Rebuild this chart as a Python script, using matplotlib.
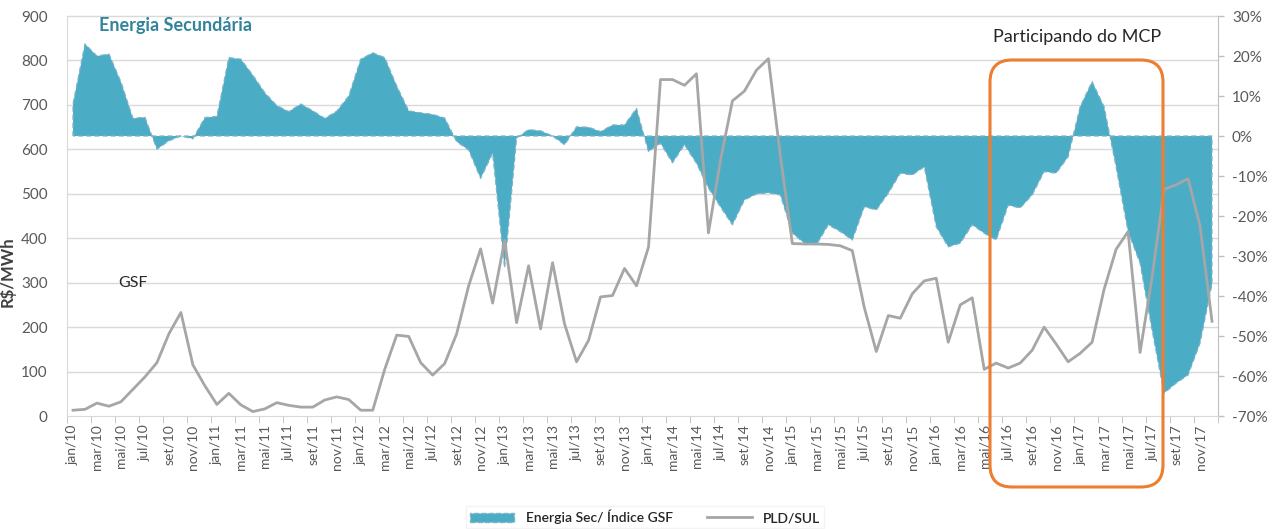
import matplotlib
matplotlib.use("Agg")
import matplotlib.pyplot as plt
from matplotlib.patches import FancyBboxPatch, Patch
from matplotlib.lines import Line2D

plt.rcParams['font.family'] = ['Lato', 'DejaVu Sans']

# months jan/10 .. dez/17
month_names = ["jan", "fev", "mar", "abr", "mai", "jun", "jul", "ago", "set", "out", "nov", "dez"]
years = ["10", "11", "12", "13", "14", "15", "16", "17"]
months = [m + "/" + y for y in years for m in month_names]

# GSF index deviation (%), right axis
gsf = [8, 23, 20, 20.5, 13.5, 4.4, 4.7, -3.3, -1.2, 0, -0.7, 4.6,
       4.9, 19.6, 19.2, 15.2, 10.8, 7.6, 6.1, 8, 6.3, 4.4, 6.2, 10,
       19.2, 20.8, 19.6, 12.5, 6.3, 5.8, 5.4, 4.5, -1.4, -3.5, -10.6, -4.3,
       -33, -0.5, 1.6, 1.3, 0, -2.2, 2.3, 2.2, 1.1, 2.75, 2.75, 6.9,
       -3.9, -1.8, -6.7, -2.2, -6.8, -13, -17.7, -22.2, -16, -14.5, -14.2, -14.75,
       -24.3, -26.8, -27.2, -22.2, -23.9, -26, -17.7, -18.5, -14.3, -9.3, -9.75, -7.7,
       -22.7, -27.7, -26.8, -22.2, -24.3, -26, -17.3, -18, -14.75, -8.9, -9.3, -5.2,
       7.3, 13.6, 7.3, -7.7, -23.9, -31.8, -48.5, -64.3, -61.8, -59.75, -51.8, -37]

# PLD south submarket (R$/MWh), left axis
pld = [13, 15, 29, 22, 32, 60, 88, 120, 185, 233, 115, 68,
       26, 51, 25, 10, 16, 30, 24, 20, 20, 36, 43, 37,
       13, 13, 105, 182, 179, 120, 92, 118, 185, 293, 376, 254,
       395, 210, 338, 196, 345, 207, 122, 170, 268, 271, 332, 293,
       380, 757, 757, 744, 770, 412, 575, 709, 731, 778, 804, 585,
       388, 387, 387, 386, 383, 372, 244, 145, 226, 220, 275, 304,
       310, 166, 250, 266, 105, 119, 108, 119, 148, 200, 162, 122,
       141, 166, 285, 375, 415, 143, 312, 510, 520, 534, 428, 213]

teal = '#4BACC6'
teal_edge = '#7fb3c4'
gray = '#A6A6A6'
txt = '#595959'

W, H = 1278, 529
fig = plt.figure(figsize=(W / 100, H / 100), dpi=100)
ax = fig.add_axes([67 / W, 113 / H, 1151 / W, 400 / H])
axl = ax.twinx()
x = list(range(len(months)))

# gridlines at left-axis values, behind the area
for v in range(100, 1000, 100):
    ax.plot([0, 1], [v / 900, v / 900], transform=ax.transAxes, color='#D9D9D9',
            lw=1, zorder=0, clip_on=False)

# area with dashed outline
px = [x[0]] + x + [x[-1]]
py = [0] + gsf + [0]
ax.fill(px, py, facecolor=teal, edgecolor='none', zorder=2)
ax.plot(px + [x[0]], py + [0], color=teal_edge, ls=(0, (4, 2.5)), lw=0.9, zorder=3)

ax.set_xlim(-0.5, 95.5)
ax.set_ylim(-70, 30)
ax.yaxis.tick_right()
ax.yaxis.set_label_position('right')
ax.set_yticks(range(-70, 31, 10))
ax.set_yticklabels([str(v) + "%" for v in range(-70, 31, 10)])
ax.tick_params(axis='y', labelcolor=txt, labelsize=11, length=4, width=1,
               pad=6, color='#BFBFBF')

ax.set_xticks(x[::2])
ax.set_xticklabels(months[::2], rotation=90, fontsize=10, color=txt)
ax.set_xticks([i + 1.5 for i in range(-2, 95, 2)], minor=True)
ax.tick_params(axis='x', which='major', length=0, pad=6)
ax.tick_params(axis='x', which='minor', length=5, color='#BFBFBF')

for s in ['top', 'left']:
    ax.spines[s].set_visible(False)
ax.spines['right'].set_color('#BFBFBF')
ax.spines['bottom'].set_color('#D9D9D9')

# PLD on left axis
axl.yaxis.tick_left()
axl.yaxis.set_label_position('left')
axl.plot(x, pld, color=gray, lw=2, zorder=4)
axl.set_ylim(0, 900)
axl.set_yticks(range(0, 1000, 100))
axl.tick_params(axis='y', labelcolor=txt, labelsize=11, length=0, pad=14)
for s in ['top', 'right', 'bottom']:
    axl.spines[s].set_visible(False)
axl.spines['left'].set_color('#D9D9D9')
axl.set_ylabel("R$/MWh", fontsize=12, fontweight='bold', color='#404040')
axl.yaxis.set_label_coords(-0.045, 0.36)

# annotations
fig.text(99 / W, 1 - 26 / H, "Energia Secundária", fontsize=13, fontweight='bold',
         color='#31849B', va='center', ha='left')
fig.text(118 / W, 1 - 283 / H, "GSF", fontsize=11.5, color='#262626', va='center', ha='left')
fig.text(993 / W, 1 - 37 / H, "Participando do MCP", fontsize=13, color='#262626',
         va='center', ha='left')

box = FancyBboxPatch((990 / W, 1 - 487 / H), 173 / W, 427 / H,
                     boxstyle="round,pad=0,rounding_size=%f" % (22 / W),
                     mutation_aspect=W / H, transform=fig.transFigure,
                     facecolor='none', edgecolor='#ED7D31', lw=2.2, zorder=10)
fig.patches.append(box)

handles = [Patch(facecolor=teal, edgecolor=teal_edge, linestyle='--', lw=1),
           Line2D([], [], color=gray, lw=2)]
leg = fig.legend(handles, ["Energia Sec/ Índice GSF", "PLD/SUL"], loc='center',
                 bbox_to_anchor=(645 / W, 1 - 517 / H), ncol=2, frameon=True,
                 fontsize=10, handlelength=3.2, columnspacing=2.5,
                 borderpad=0.3, fancybox=False)
leg.get_frame().set_edgecolor('#F2F2F2')
for t in leg.get_texts():
    t.set_color('#262626')
    t.set_fontweight('semibold')

fig.savefig("out.png", dpi=100)
